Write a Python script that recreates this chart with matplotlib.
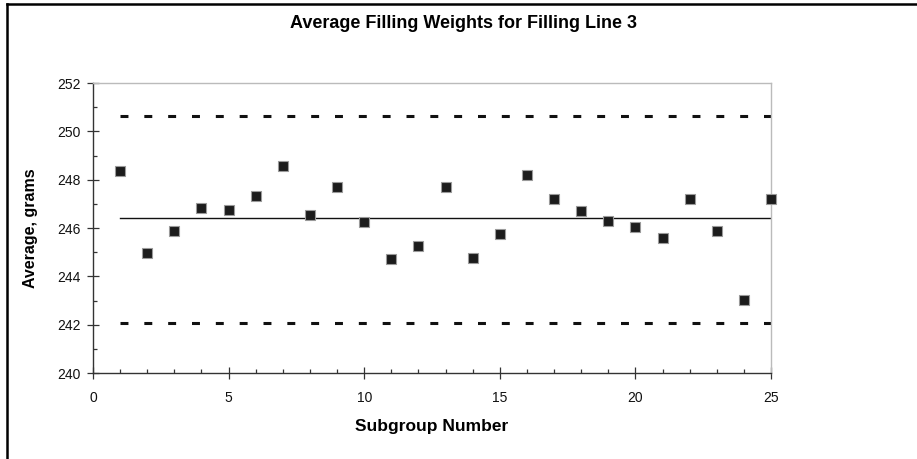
import matplotlib
matplotlib.use("Agg")
import matplotlib.pyplot as plt
from matplotlib.lines import Line2D
from matplotlib.ticker import MultipleLocator

# subgroup averages
subgroups = list(range(1, 26))
averages = [248.36, 244.97, 245.88, 246.84, 246.73, 247.34, 248.55, 246.55,
            247.70, 246.23, 244.72, 245.27, 247.70, 244.77, 245.75, 248.18,
            247.21, 246.72, 246.30, 246.06, 245.57, 247.21, 245.89, 243.03,
            247.21]
center_line = 246.43
upper_limit = 250.65
lower_limit = 242.05

title = "Average Filling Weights for Filling Line 3"
x_label = "Subgroup Number"
y_label = "Average, grams"

W, H = 917, 459
plt.rcParams['font.family'] = ['Liberation Sans', 'DejaVu Sans']

fig = plt.figure(figsize=(W / 100, H / 100), dpi=100)
ax = fig.add_axes([93 / W, 1 - 373 / H, (771 - 93) / W, (373 - 83) / H])

x_ends = [subgroups[0], subgroups[-1]]
ax.plot(x_ends, [center_line, center_line], color='#111111', lw=1.0)
for lim in (upper_limit, lower_limit):
    ax.plot(x_ends, [lim, lim], color='#111111', lw=2.2,
            dashes=(2.6, 5.2), dash_capstyle='butt')

ax.plot(subgroups, averages, linestyle='none', marker='s', markersize=6.8,
        markerfacecolor='#1c1c1c', markeredgecolor='#9a9a9a', markeredgewidth=0.8,
        clip_on=False, zorder=5)

ax.set_xlim(0, 25)
ax.set_ylim(240, 252)
ax.xaxis.set_major_locator(MultipleLocator(5))
ax.xaxis.set_minor_locator(MultipleLocator(1))
ax.yaxis.set_major_locator(MultipleLocator(2))
ax.yaxis.set_minor_locator(MultipleLocator(1))
ax.tick_params(which='major', direction='inout', length=8, width=0.9,
               color='#333333', labelsize=10, labelcolor='#111111')
ax.tick_params(axis='x', which='major', pad=9)
ax.tick_params(axis='y', which='major', pad=5)
ax.tick_params(which='minor', direction='in', length=3, width=0.9, color='#333333')

for side in ('left', 'bottom'):
    ax.spines[side].set_color('#333333')
    ax.spines[side].set_linewidth(1.0)
for side in ('top', 'right'):
    ax.spines[side].set_color('#bbbbbb')
    ax.spines[side].set_linewidth(1.0)

fig.text(432 / W, 1 - 426 / H, x_label, ha='center', va='center',
         fontsize=12.5, fontweight='bold')
fig.text(31 / W, 1 - 228 / H, y_label, ha='center', va='center', rotation=90,
         fontsize=11.5, fontweight='bold')
fig.text(463.5 / W, 1 - 23.5 / H, title, ha='center', va='center',
         fontsize=13, fontweight='bold')

# outer frame, only top and left edges are visible
fig.add_artist(Line2D([7 / W, 7 / W], [0, 1 - 3.5 / H], transform=fig.transFigure,
                      color='black', lw=1.8))
fig.add_artist(Line2D([7 / W, 1], [1 - 3.5 / H, 1 - 3.5 / H], transform=fig.transFigure,
                      color='black', lw=1.8))

fig.savefig("out.png", dpi=100)
